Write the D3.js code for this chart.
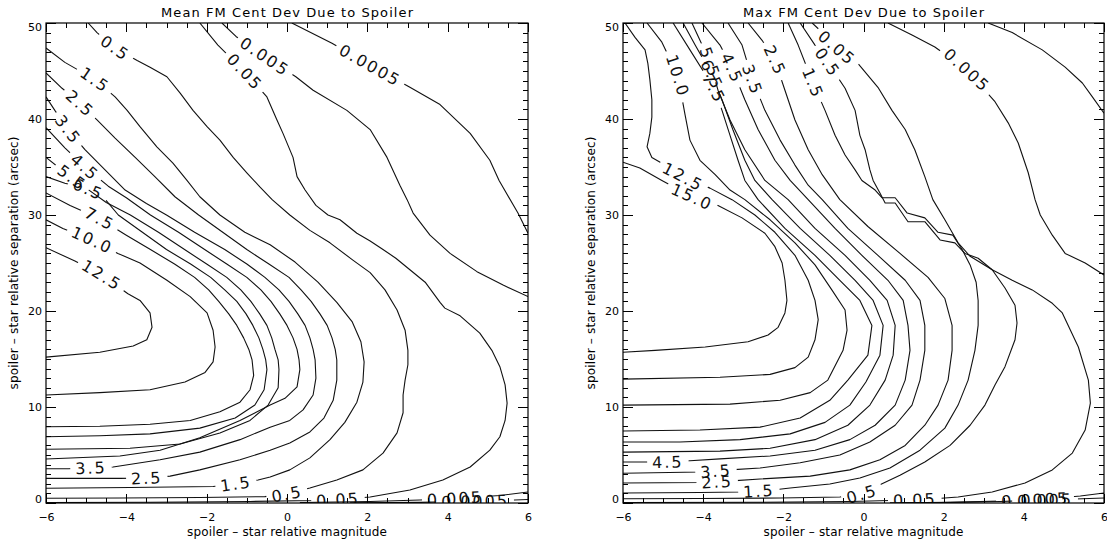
<!DOCTYPE html>
<html>
<head>
<meta charset="utf-8">
<style>
  body { margin: 0; background: #fff; }
  svg { display: block; font-family: "DejaVu Sans", sans-serif; }
  .clab { font-size: 16px; letter-spacing: 2px; fill: #111; }
  .contour { fill: none; stroke: #111; stroke-width: 1.1; stroke-linejoin: round; }
</style>
</head>
<body>
<svg width="1107" height="542"></svg>
<script src="https://d3js.org/d3.v7.min.js"></script>
<script>

// axes
var magDomain = [-6, 6];
var sepDomain = [0, 50];
var magMajor = [-6, -4, -2, 0, 2, 4, 6];
var sepMajor = [0, 10, 20, 30, 40, 50];

// contour lines: [magnitude, separation]
// left panel: mean deviation
var mean12_5 = [[-6,26.6],[-5.28,25.2],[-4.61,23.75],[-3.96,21.8],[-3.66,21.1],[-3.41,19.8],[-3.36,18.3],[-3.49,17.0],[-3.83,16.35],[-4.66,15.7],[-6,15.2]];
var mean10_0 = [[-6,29.5],[-5.58,28.6],[-4.85,27.4],[-4.21,26.0],[-3.66,25.0],[-2.99,23.2],[-2.41,21.5],[-1.99,19.8],[-1.84,18.0],[-1.79,16.25],[-1.84,14.7],[-2.04,13.6],[-2.54,12.6],[-3.41,11.8],[-4.66,11.5],[-6,11.25]];
var mean7_5 = [[-6,32.3],[-5.4,31.0],[-4.66,29.6],[-4.0,27.9],[-3.4,26.4],[-2.8,24.9],[-2.3,23.5],[-1.95,22.2],[-1.7,21.0],[-1.45,19.7],[-1.25,18.5],[-1.08,17.2],[-0.95,16.0],[-0.87,14.9],[-0.83,13.3],[-0.92,11.8],[-1.17,10.5],[-1.67,9.5],[-2.41,8.6],[-3.41,8.2],[-4.66,8.0],[-6,7.95]];
var mean6_5 = [[-6,34.0],[-5.53,33.3],[-4.95,32.7],[-4.5,31.5],[-4.2,30.0],[-3.6,28.2],[-3.0,26.4],[-2.4,24.9],[-1.9,23.5],[-1.55,22.2],[-1.25,21.0],[-1.02,19.7],[-0.85,18.5],[-0.7,17.2],[-0.6,16.0],[-0.53,14.9],[-0.5,13.9],[-0.57,11.8],[-0.8,10.2],[-1.29,8.85],[-2.17,7.8],[-3.41,7.2],[-4.66,7.0],[-6,6.9]];
var mean5_5 = [[-6,36.0],[-5.7,35.0],[-5.35,33.9],[-5.0,32.8],[-4.5,31.3],[-3.9,30.0],[-3.2,28.2],[-2.55,26.4],[-2.0,24.9],[-1.5,23.5],[-1.15,22.2],[-0.9,21.0],[-0.68,19.7],[-0.5,18.5],[-0.38,17.2],[-0.3,16.0],[-0.22,14.9],[-0.2,13.9],[-0.22,12.0],[-0.47,10.2],[-0.92,8.6],[-1.67,7.3],[-2.66,6.15],[-3.91,5.7],[-6,5.6]];
var mean4_5 = [[-6,39.1],[-5.53,37.0],[-5.03,35.0],[-4.45,33.0],[-4.0,31.8],[-3.4,30.0],[-2.7,28.2],[-2.05,26.4],[-1.5,24.9],[-1.0,23.5],[-0.65,22.2],[-0.4,21.0],[-0.18,19.7],[0.0,18.5],[0.15,17.2],[0.25,16.0],[0.3,14.9],[0.32,13.9],[0.25,12.1],[-0.05,10.9],[-0.42,10.2],[-1.17,8.6],[-2.17,6.8],[-3.16,5.5],[-4.16,4.9],[-6,4.58]];
var mean3_5 = [[-6,42.3],[-5.78,40.9],[-5.45,38.9],[-5.03,36.8],[-4.53,34.7],[-4.03,32.6],[-3.5,31.2],[-3.0,30.0],[-2.3,28.2],[-1.55,26.4],[-1.0,24.9],[-0.55,23.5],[-0.2,22.2],[0.05,21.0],[0.27,19.7],[0.45,18.5],[0.57,17.2],[0.65,16.0],[0.7,14.9],[0.72,13.0],[0.65,11.25],[0.4,9.7],[0.07,8.6],[-0.42,7.9],[-1.17,6.6],[-2.17,5.3],[-3.16,4.5],[-4.33,3.75],[-4.88,3.65],[-5.45,3.57],[-6,3.57]];
var mean2_5 = [[-6,44.8],[-5.6,43.2],[-5.15,41.6],[-4.73,39.9],[-4.28,38.0],[-3.78,36.0],[-3.29,34.0],[-2.79,31.9],[-2.2,30.0],[-1.6,28.2],[-1.0,26.4],[-0.45,24.9],[0.05,23.5],[0.35,22.2],[0.6,21.0],[0.82,19.7],[1.0,18.5],[1.12,17.2],[1.2,16.0],[1.24,14.9],[1.24,12.8],[1.15,10.7],[0.92,8.85],[0.57,7.4],[0.07,6.25],[-0.42,5.5],[-1.17,4.5],[-2.17,3.45],[-2.91,2.8],[-3.49,2.6],[-4.16,2.57],[-6,2.57]];
var mean1_5 = [[-6,47.4],[-5.53,45.9],[-4.78,44.1],[-4.28,42.3],[-3.98,40.9],[-3.66,39.2],[-3.24,37.1],[-2.84,35.4],[-2.49,33.6],[-2.17,31.9],[-1.67,30.0],[-1.05,28.2],[-0.42,26.9],[0.2,25.1],[0.77,23.0],[1.24,20.9],[1.62,18.9],[1.84,16.8],[1.92,14.7],[1.89,12.6],[1.74,10.5],[1.44,8.4],[1.07,6.6],[0.57,4.7],[0.07,3.45],[-0.42,2.7],[-0.72,2.4],[-1.27,2.0],[-1.84,1.72],[-3.91,1.61],[-6,1.53]];
var mean0_5 = [[-4.95,50],[-4.73,49.0],[-4.28,47.4],[-3.73,46.1],[-3.41,45.4],[-2.99,44.4],[-2.66,42.7],[-2.34,40.9],[-1.99,39.2],[-1.67,37.8],[-1.34,36.0],[-1.0,34.4],[-0.67,32.9],[-0.37,31.6],[0.07,30.0],[0.57,28.4],[1.07,27.1],[1.64,25.3],[2.07,24.0],[2.44,22.2],[2.74,20.1],[2.94,18.0],[3.01,15.9],[3.01,14.4],[2.94,12.8],[2.89,11.25],[2.89,9.4],[2.74,7.3],[2.39,5.2],[1.89,3.45],[1.24,2.4],[0.57,1.56],[0,0.94],[-0.55,0.66],[-2.17,0.57],[-4.16,0.52],[-6,0.5]];
var mean0_05 = [[-2.17,50],[-1.72,47.7],[-1.05,44.9],[-0.5,42.3],[-0.25,39.9],[-0.1,38.5],[0.15,36.0],[0.25,34.0],[0.45,32.6],[0.72,31.0],[1.02,30.0],[1.32,29.5],[1.74,28.1],[2.07,27.3],[2.39,26.4],[2.71,25.5],[3.06,24.3],[3.44,23.0],[3.81,20.9],[3.93,20.3],[4.31,19.5],[4.8,17.7],[5.1,15.9],[5.3,14.2],[5.43,12.3],[5.48,10.4],[5.43,8.6],[5.3,6.9],[5.05,5.5],[4.56,3.75],[3.88,2.4],[3.06,1.35],[2.07,0.63],[1.27,0.36],[0.7,0.26],[-0.92,0.16],[-3.41,0.08],[-6,0.05]];
var mean0_005a = [[-1.62,50],[-1.27,48.6],[-0.55,46.5],[0.22,44.4],[0.65,43.0],[1.49,40.9],[2.07,38.9],[2.49,36.0],[2.81,33.1],[2.99,31.6],[3.14,30.2],[3.56,27.9],[4.06,26.0],[4.73,24.1],[5.38,22.7],[6,21.5]];
var mean0_005b = [[6,1.15],[5.3,0.78],[4.18,0.47],[3.31,0.31],[2.07,0.16],[0.32,0.05]];
var mean0_0005a = [[0.12,50],[1.12,47.9],[2.07,45.6],[3.06,43.3],[3.81,41.5],[4.56,38.5],[5.05,35.7],[5.28,33.6],[5.75,30.2],[6,28.1]];
var mean0_0005b = [[6,0.36],[5.3,0.26],[4.68,0.19],[3.31,0.07],[1.57,0.01]];

// right panel: max deviation
var max15_0 = [[-6,35.5],[-5.58,34.9],[-5.03,33.6],[-4.28,31.9],[-3.63,31.0],[-3.03,29.7],[-2.46,28.1],[-2.21,26.7],[-2.03,25.0],[-1.96,23.2],[-1.91,21.1],[-1.96,19.8],[-2.13,18.3],[-2.38,17.5],[-2.88,16.8],[-3.95,16.25],[-5.2,15.9],[-6,15.7]];
var max12_5 = [[-5.95,50],[-5.7,48.5],[-5.45,47.2],[-5.38,45.8],[-5.33,44.1],[-5.28,42.0],[-5.28,40.2],[-5.33,38.5],[-5.4,37.1],[-5.28,36.0],[-5.03,35.4],[-4.5,34.0],[-3.83,32.8],[-3.28,31.6],[-2.71,30.0],[-2.21,28.2],[-1.71,25.8],[-1.38,23.2],[-1.21,21.1],[-1.13,19.1],[-1.21,17.0],[-1.38,15.2],[-1.71,14.1],[-2.33,13.4],[-3.58,13.1],[-6,12.9]];
var max10_0 = [[-5.4,50],[-5.03,48.0],[-4.63,44.5],[-4.45,40.4],[-4.33,37.8],[-4.08,35.7],[-3.7,34.2],[-3.33,32.6],[-2.96,31.6],[-2.33,29.5],[-1.71,27.1],[-1.21,24.8],[-0.79,22.2],[-0.46,20.1],[-0.41,18.0],[-0.51,15.9],[-0.89,12.8],[-1.33,11.5],[-2.08,10.7],[-3.33,10.3],[-6,10.2]];
var max7_5 = [[-4.75,50],[-4.33,47.2],[-3.73,43.2],[-3.53,40.9],[-3.33,38.3],[-3.13,35.7],[-2.96,33.6],[-2.63,31.6],[-1.96,28.6],[-1.21,25.8],[-0.59,23.2],[-0.09,21.1],[0.21,18.5],[0.11,15.4],[-0.39,12.8],[-0.84,10.7],[-1.58,8.85],[-2.58,7.9],[-4.08,7.6],[-6,7.5]];
var max6_5 = [[-4.5,50],[-4.2,47.7],[-3.78,44.6],[-3.53,42.0],[-3.26,38.9],[-2.96,35.7],[-2.71,33.6],[-2.28,31.6],[-1.58,28.6],[-0.84,25.8],[-0.21,23.2],[0.24,21.1],[0.49,18.5],[0.41,15.4],[0.06,12.6],[-0.34,10.2],[-0.96,8.4],[-1.83,7.2],[-3.08,6.6],[-4.58,6.35],[-6,6.35]];
var max5_5 = [[-4.28,50],[-4.08,48.2],[-3.83,45.9],[-3.63,43.0],[-3.33,39.9],[-2.96,36.8],[-2.46,33.6],[-1.88,31.6],[-1.21,28.6],[-0.46,25.8],[0.16,23.2],[0.59,21.1],[0.79,18.5],[0.74,15.4],[0.54,12.8],[0.16,10.2],[-0.39,8.1],[-1.21,6.6],[-2.33,5.7],[-3.58,5.4],[-6,5.3]];
var max4_5 = [[-4.03,50],[-3.58,47.7],[-3.28,45.3],[-2.96,42.0],[-2.63,38.9],[-2.21,35.7],[-1.83,33.6],[-1.38,31.6],[-0.71,28.6],[-0.04,25.8],[0.61,23.2],[0.99,21.1],[1.11,18.5],[1.16,15.9],[1.04,12.8],[0.79,10.2],[0.29,8.1],[-0.34,6.6],[-1.21,5.5],[-2.33,4.9],[-3.58,4.6],[-4.33,4.4],[-4.88,4.27],[-5.45,4.27],[-6,4.27]];
var max3_5 = [[-3.38,50],[-3.03,47.7],[-2.77,44.1],[-2.46,40.9],[-2.08,37.8],[-1.71,35.2],[-1.38,33.1],[-1.03,31.6],[-0.39,28.6],[0.36,25.8],[1.04,23.2],[1.41,21.1],[1.53,18.5],[1.53,15.9],[1.41,12.8],[1.21,10.2],[0.79,8.1],[0.16,6.35],[-0.59,5.0],[-1.58,4.2],[-2.58,3.65],[-3.33,3.45],[-3.68,3.33],[-4.08,3.23],[-6,3.1]];
var max2_5 = [[-2.88,50],[-2.53,48.2],[-2.21,46.1],[-1.96,43.0],[-1.71,39.9],[-1.38,36.8],[-1.03,34.2],[-0.59,31.6],[0.11,28.8],[0.91,26.0],[1.61,23.5],[2.03,21.3],[2.21,18.5],[2.21,15.9],[2.11,12.8],[1.86,10.2],[1.53,8.1],[1.04,6.0],[0.41,4.5],[-0.34,3.45],[-1.33,2.8],[-2.58,2.5],[-3.28,2.3],[-3.65,2.2],[-4.08,2.14],[-6,2.08]];
var max1_5 = [[-1.88,50],[-1.63,47.7],[-1.26,43.75],[-0.96,40.9],[-0.71,38.3],[-0.46,36.25],[-0.21,34.7],[-0.04,33.6],[0.29,32.6],[0.46,31.8],[0.79,31.8],[1.09,30.2],[1.53,29.7],[1.86,28.2],[2.23,27.9],[2.46,26.4],[2.66,24.8],[2.81,23.0],[2.86,21.1],[2.86,18.5],[2.78,15.9],[2.61,12.8],[2.36,10.2],[2.03,7.8],[1.41,5.5],[0.66,3.65],[-0.09,2.6],[-0.84,1.98],[-1.83,1.56],[-2.26,1.35],[-2.61,1.25],[-3.08,1.15],[-4.08,1.1],[-6,1.04]];
var max0_5 = [[-1.58,50],[-1.21,47.7],[-0.89,45.9],[-0.46,43.2],[-0.21,40.9],[-0.09,38.3],[0.04,36.8],[0.16,34.7],[0.24,33.6],[0.41,32.3],[0.54,31.25],[0.79,31.25],[1.11,29.3],[1.53,29.3],[1.91,27.4],[2.28,27.1],[2.53,26.0],[2.86,25.5],[3.21,24.3],[3.53,22.4],[3.78,20.6],[3.83,18.75],[3.78,17.0],[3.53,14.2],[3.28,12.3],[3.03,10.2],[2.66,8.1],[2.16,6.0],[1.53,4.27],[0.91,2.9],[0.41,1.9],[-0.04,0.94],[-0.59,0.63],[-2.08,0.52],[-4.08,0.47],[-6,0.44]];
var max0_05 = [[-1.28,50],[-0.96,48.75],[-0.66,47.4],[-0.14,45.8],[0.36,43.3],[0.71,40.9],[1.04,38.9],[1.28,36.8],[1.53,34.0],[1.73,31.6],[2.03,29.5],[2.36,27.1],[2.66,25.7],[3.21,24.3],[3.71,23.2],[4.21,22.2],[4.71,20.8],[4.96,19.8],[5.36,16.25],[5.61,12.8],[5.66,10.4],[5.53,7.6],[5.21,5.2],[4.71,3.45],[4.03,2.08],[3.21,1.15],[2.36,0.63],[1.86,0.47],[1.28,0.36],[0.66,0.26],[-0.34,0.16],[-2.58,0.08],[-6,0.05]];
var max0_005a = [[0.61,50],[1.21,48.75],[1.78,47.5],[2.58,45.1],[3.28,41.8],[3.61,39.6],[3.86,37.5],[4.11,34.4],[4.28,31.6],[4.41,30.0],[4.71,27.9],[5.03,26.0],[5.53,25.0],[6,23.75]];
var max0_005b = [[6,0.52],[4.91,0.36],[4.53,0.31],[3.41,0.16],[1.91,0.05],[0.66,0.01]];
var max0_0005a = [[3.11,50],[3.71,49.0],[4.46,47.2],[5.03,45.4],[5.46,43.75],[5.71,42.3],[6,40.6]];
var max0_0005b = [[6,1.04],[5.41,0.73],[4.86,0.52],[4.28,0.36],[3.41,0.21],[2.16,0.07],[0.91,0.01]];

// [label text, points, indices of points where the label sits]
var meanContours = [
  ["12.5", mean12_5, [2]], ["10.0", mean10_0, [2]], ["7.5", mean7_5, [2]],
  ["6.5", mean6_5, [2]], ["5.5", mean5_5, [2]], ["4.5", mean4_5, [2]],
  ["3.5", mean3_5, [2, 28]], ["2.5", mean2_5, [2, 29]], ["1.5", mean1_5, [2, 27]],
  ["0.5", mean0_5, [2, 32]], ["0.05", mean0_05, [2, 33]],
  ["0.005", mean0_005a, [2]], ["0.005", mean0_005b, [2]],
  ["0.0005", mean0_0005a, [2]], ["0.0005", mean0_0005b, [2]]
];
var maxContours = [
  ["15.0", max15_0, [3]], ["12.5", max12_5, [11]], ["10.0", max10_0, [2]],
  ["7.5", max7_5, [2]], ["6.5", max6_5, [2]], ["5.5", max5_5, [2]],
  ["4.5", max4_5, [2, 22]], ["3.5", max3_5, [2, 22]], ["2.5", max2_5, [2, 23]],
  ["1.5", max1_5, [2, 30]], ["0.5", max0_5, [2, 31]], ["0.05", max0_05, [2, 28]],
  ["0.005", max0_005a, [3]], ["0.005", max0_005b, [2]],
  ["0.0005", max0_0005a, []], ["0.0005", max0_0005b, [3]]
];

var svg = d3.select("svg"),
    defs = svg.append("defs");
var plotTop = 23, plotBottom = 503;

var panels = [
  {title: "Mean FM Cent Dev Due to Spoiler", x0: 46, x1: 528, titleLen: 252, contours: meanContours},
  {title: "Max FM Cent Dev Due to Spoiler", x0: 623, x1: 1104, titleLen: 241, contours: maxContours}
];

panels.forEach(function(p, pi) {
  var x = d3.scaleLinear().domain(magDomain).range([p.x0, p.x1]);
  var y = d3.scaleLinear().domain(sepDomain).range([plotBottom, plotTop]);
  var g = svg.append("g");

  defs.append("clipPath").attr("id", "clip" + pi)
    .append("rect")
      .attr("x", p.x0).attr("y", plotTop)
      .attr("width", p.x1 - p.x0).attr("height", plotBottom - plotTop);

  var plot = g.append("g").attr("clip-path", "url(#clip" + pi + ")");
  var lines = plot.append("g"), labels = plot.append("g");
  var line = d3.line().x(function(d) { return x(d[0]); }).y(function(d) { return y(d[1]); });

  p.contours.forEach(function(c, ci) {
    var txt = c[0], pts = c[1], at = c[2];
    var id = "mask" + pi + "_" + ci;
    var mask = defs.append("mask").attr("id", id)
      .attr("maskUnits", "userSpaceOnUse")
      .attr("x", 0).attr("y", 0).attr("width", 1107).attr("height", 542);
    mask.append("rect").attr("width", 1107).attr("height", 542).attr("fill", "#fff");

    at.forEach(function(i) {
      var a = pts[Math.max(i - 1, 0)], b = pts[Math.min(i + 1, pts.length - 1)];
      var ang = Math.atan2(y(b[1]) - y(a[1]), x(b[0]) - x(a[0])) * 180 / Math.PI;
      if (ang > 90) ang -= 180;
      if (ang < -90) ang += 180;
      var tr = "translate(" + x(pts[i][0]) + "," + y(pts[i][1]) + ") rotate(" + ang + ")";
      var t = labels.append("text")
          .attr("class", "clab")
          .attr("transform", tr)
          .attr("text-anchor", "middle")
          .attr("dy", "0.36em")
          .text(txt);
      var w = t.node().getComputedTextLength() + 10;
      mask.append("rect")
          .attr("transform", tr)
          .attr("x", -w / 2).attr("y", -8)
          .attr("width", w).attr("height", 16)
          .attr("fill", "#000");
    });

    lines.append("path")
        .attr("class", "contour")
        .attr("mask", "url(#" + id + ")")
        .attr("d", line(pts));
  });

  // ticks on all four sides, pointing inwards
  var magMinor = d3.range(-6, 6.01, 0.5).filter(function(v) { return v % 2 !== 0; });
  var sepMinor = d3.range(0, 50.01, 1).filter(function(v) { return v % 10 !== 0; });

  function tickAxis(axis, vals, size, pos, labelled) {
    var a = g.append("g")
        .attr("transform", pos)
        .call(axis.tickValues(vals).tickSize(-size).tickSizeOuter(0)
          .tickFormat(labelled ? d3.format("d") : ""));
    a.select(".domain").remove();
    a.selectAll("line").attr("stroke", "#000").attr("shape-rendering", "crispEdges");
    return a;
  }

  var bx = tickAxis(d3.axisBottom(x).tickPadding(10), magMajor, 9, "translate(0," + plotBottom + ")", true);
  tickAxis(d3.axisBottom(x), magMinor, 5, "translate(0," + plotBottom + ")", false);
  tickAxis(d3.axisTop(x), magMajor, 9, "translate(0," + plotTop + ")", false);
  tickAxis(d3.axisTop(x), magMinor, 5, "translate(0," + plotTop + ")", false);
  var ly = tickAxis(d3.axisLeft(y).tickPadding(4), sepMajor, 10, "translate(" + p.x0 + ",0)", true);
  tickAxis(d3.axisLeft(y), sepMinor, 5, "translate(" + p.x0 + ",0)", false);
  tickAxis(d3.axisRight(y), sepMajor, 10, "translate(" + p.x1 + ",0)", false);
  tickAxis(d3.axisRight(y), sepMinor, 5, "translate(" + p.x1 + ",0)", false);

  bx.selectAll("text").attr("font-family", "DejaVu Sans").attr("font-size", 11).attr("fill", "#000");
  ly.selectAll("text").attr("font-family", "DejaVu Sans").attr("font-size", 11).attr("fill", "#000")
    .attr("y", function(d) { return d === 0 ? -4 : d === 50 ? 4 : 0; });

  // frame
  g.append("rect")
      .attr("x", p.x0).attr("y", plotTop)
      .attr("width", p.x1 - p.x0).attr("height", plotBottom - plotTop)
      .attr("fill", "none").attr("stroke", "#000").attr("stroke-width", 1.2);

  var cx = (p.x0 + p.x1) / 2;
  g.append("text")
      .attr("x", cx).attr("y", 17)
      .attr("text-anchor", "middle")
      .attr("font-size", 13)
      .attr("textLength", p.titleLen).attr("lengthAdjust", "spacing")
      .text(p.title);

  g.append("text")
      .attr("x", cx).attr("y", 536)
      .attr("text-anchor", "middle")
      .attr("font-size", 12)
      .attr("textLength", 200).attr("lengthAdjust", "spacing")
      .text("spoiler \u2013 star relative magnitude");

  g.append("text")
      .attr("transform", "translate(" + (p.x0 - 28) + "," + ((plotTop + plotBottom) / 2) + ") rotate(-90)")
      .attr("text-anchor", "middle")
      .attr("font-size", 12)
      .attr("textLength", 253).attr("lengthAdjust", "spacing")
      .text("spoiler \u2013 star relative separation (arcsec)");
});

</script>
</body>
</html>
